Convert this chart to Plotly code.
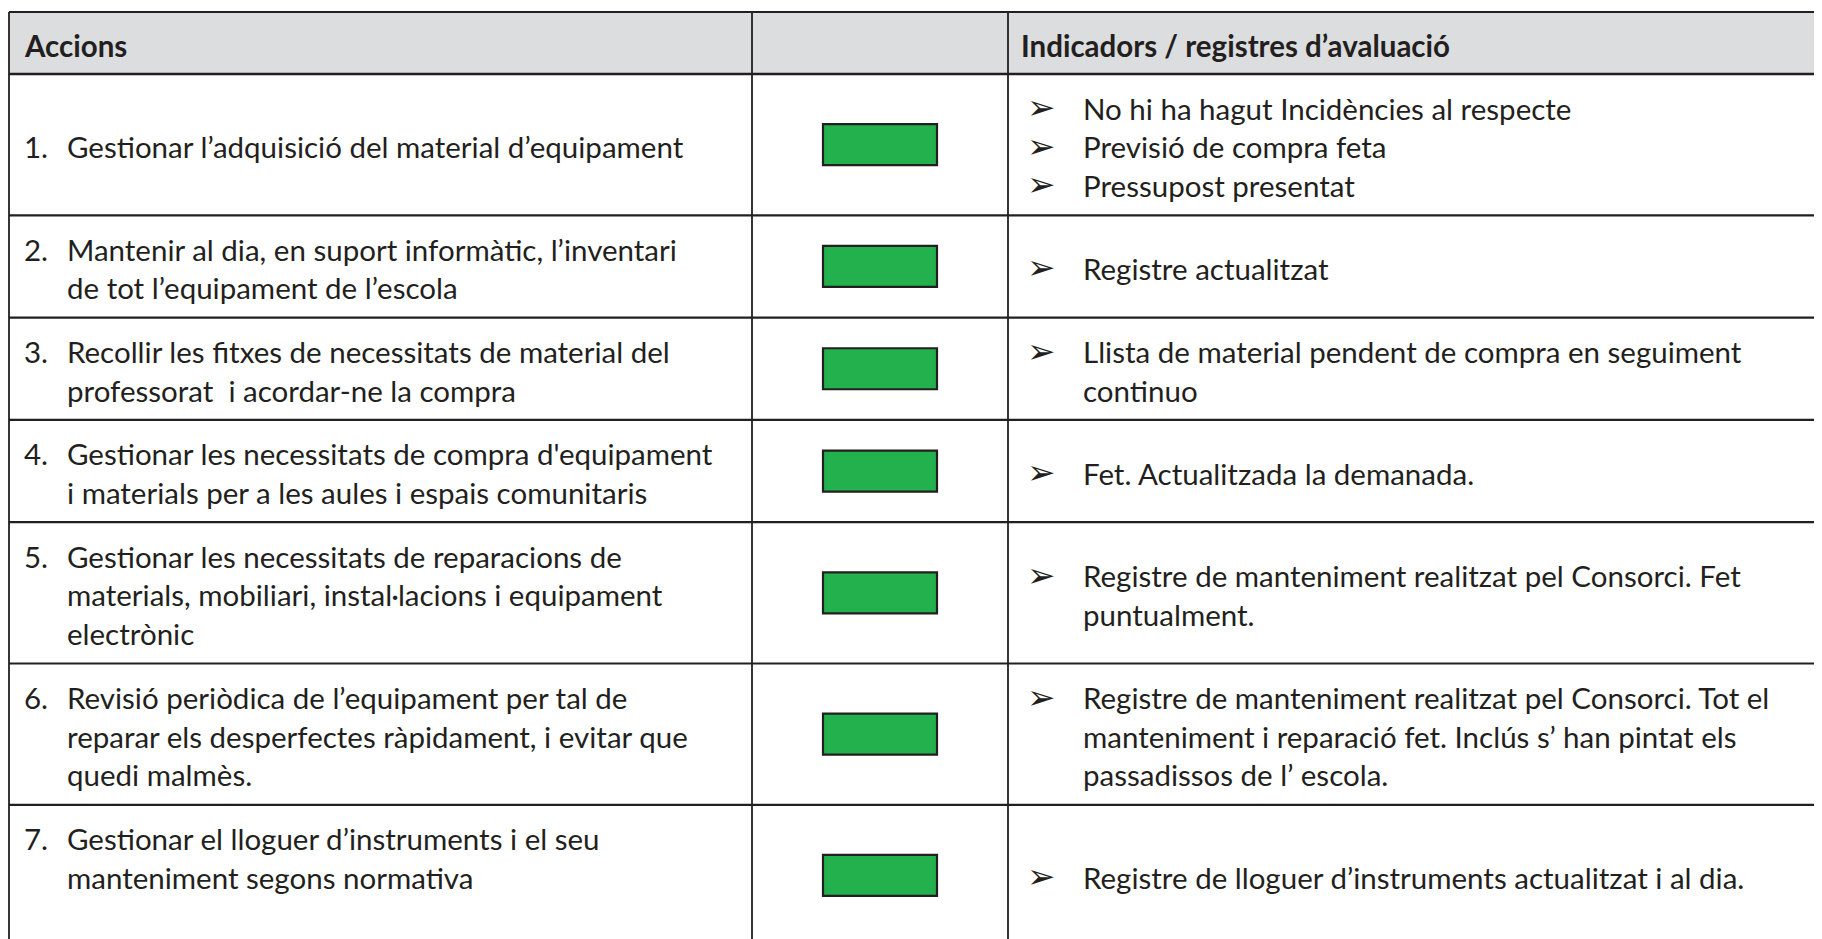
import plotly.graph_objects as go

# ---------------- data ----------------
headers = ["Accions", "", "Indicadors / registres d’avaluació"]

action_numbers = ["1.", "2.", "3.", "4.", "5.", "6.", "7."]

action_lines = [
    ["Gestionar l’adquisició del material d’equipament"],
    ["Mantenir al dia, en suport informàtic, l’inventari",
     "de tot l’equipament de l’escola"],
    ["Recollir les fitxes de necessitats de material del",
     "professorat\u00a0 i acordar-ne la compra"],
    ["Gestionar les necessitats de compra d'equipament",
     "i materials per a les aules i espais comunitaris"],
    ["Gestionar les necessitats de reparacions de",
     "materials, mobiliari, instal·lacions i equipament",
     "electrònic"],
    ["Revisió periòdica de l’equipament per tal de",
     "reparar els desperfectes ràpidament, i evitar que",
     "quedi malmès."],
    ["Gestionar el lloguer d’instruments i el seu",
     "manteniment segons normativa",
     ""],
]

status = ["assolit", "assolit", "assolit", "assolit", "assolit", "assolit", "assolit"]
status_colors = {"assolit": "#22B14C"}

indicator_lines = [
    [["No hi ha hagut Incidències al respecte"],
     ["Previsió de compra feta"],
     ["Pressupost presentat"]],
    [["Registre actualitzat"]],
    [["Llista de material pendent de compra en seguiment", "continuo"]],
    [["Fet. Actualitzada la demanada."]],
    [["Registre de manteniment realitzat pel Consorci. Fet", "puntualment."]],
    [["Registre de manteniment realitzat pel Consorci. Tot el",
      "manteniment i reparació fet. Inclús s’ han pintat els",
      "passadissos de l’ escola."]],
    [["Registre de lloguer d’instruments actualitzat i al dia."]],
]

# ---------------- layout constants ----------------
W, H = 1822, 939          # page size
OFF = 8                   # default body margin of the page
COL_EDGES = [9, 752, 1008, 1840]
TABLE_TOP = 12
HEADER_BOTTOM = 74
LINE_GAP = 38.5
TEXT_SHIFT = 2
BOX_W, BOX_H = 114, 41
FONT = "Lato, 'Open Sans', sans-serif"
FS = 29.5
HFS = 29.5
INK = "#231F20"

# row edges from number of text lines
row_edges = [TABLE_TOP, HEADER_BOTTOM]
for a, ind in zip(action_lines, indicator_lines):
    n = max(len(a), sum(len(b) for b in ind))
    row_edges.append(row_edges[-1] + 24.3 + 39 * n)

fig = go.Figure()
fig.add_trace(go.Scatter(x=[OFF, W], y=[OFF, H], mode="markers",
                         marker=dict(opacity=0), hoverinfo="skip", showlegend=False))

shapes = []
annotations = []

# header background
shapes.append(dict(type="rect", xref="x", yref="y", x0=COL_EDGES[0], x1=COL_EDGES[-1],
                   y0=TABLE_TOP, y1=HEADER_BOTTOM, fillcolor="#DCDDDE",
                   line=dict(width=0), layer="below"))

# header text
hy = (TABLE_TOP + HEADER_BOTTOM) / 2 + TEXT_SHIFT
annotations.append(dict(x=22, y=hy, text="<b>" + headers[0] + "</b>", xref="x", yref="y",
                        xanchor="left", yanchor="middle", showarrow=False,
                        font=dict(family=FONT, size=HFS, color=INK)))
annotations.append(dict(x=1019, y=hy, text="<b>" + headers[2] + "</b>", xref="x", yref="y",
                        xanchor="left", yanchor="middle", showarrow=False,
                        font=dict(family=FONT, size=HFS, color=INK)))

mid_x = (COL_EDGES[1] + COL_EDGES[2]) / 2
for i in range(len(action_lines)):
    top, bot = row_edges[i + 1], row_edges[i + 2]
    cy = (top + bot) / 2
    # action cell
    lines = action_lines[i]
    n = len(lines)
    for j, t in enumerate(lines):
        y = cy + TEXT_SHIFT + (j - (n - 1) / 2) * LINE_GAP
        if j == 0:
            annotations.append(dict(x=22, y=y, text=action_numbers[i], xref="x", yref="y",
                                    xanchor="left", yanchor="middle", showarrow=False,
                                    font=dict(family=FONT, size=FS, color=INK)))
        if t:
            annotations.append(dict(x=65, y=y, text=t, xref="x", yref="y",
                                    xanchor="left", yanchor="middle", showarrow=False,
                                    font=dict(family=FONT, size=FS, color=INK)))
    # status box
    shapes.append(dict(type="rect", xref="x", yref="y",
                       x0=mid_x - BOX_W / 2, x1=mid_x + BOX_W / 2,
                       y0=cy - BOX_H / 2, y1=cy + BOX_H / 2,
                       fillcolor=status_colors[status[i]],
                       line=dict(color=INK, width=2.2), layer="above"))
    # indicators
    flat = []
    for b in indicator_lines[i]:
        for k, t in enumerate(b):
            flat.append((k == 0, t))
    n = len(flat)
    for j, (is_first, t) in enumerate(flat):
        y = cy + TEXT_SHIFT + (j - (n - 1) / 2) * LINE_GAP
        if is_first:
            annotations.append(dict(x=1025, y=y - 1, text="➢", xref="x", yref="y",
                                    xanchor="left", yanchor="middle", showarrow=False,
                                    font=dict(family="DejaVu Sans", size=34, color=INK)))
        annotations.append(dict(x=1081, y=y, text=t, xref="x", yref="y",
                                xanchor="left", yanchor="middle", showarrow=False,
                                font=dict(family=FONT, size=FS, color=INK)))

# horizontal rules
for k, y in enumerate(row_edges):
    shapes.append(dict(type="line", xref="x", yref="y", x0=COL_EDGES[0], x1=COL_EDGES[-1],
                       y0=y, y1=y, line=dict(color=INK, width=2.6 if k == 1 else 2.2),
                       layer="above"))
# vertical rules
for x in COL_EDGES[:-1]:
    shapes.append(dict(type="line", xref="x", yref="y", x0=x, x1=x,
                       y0=TABLE_TOP, y1=row_edges[-1] + 20, line=dict(color=INK, width=1.8),
                       layer="above"))

fig.update_layout(
    width=W - OFF, height=H - OFF,
    margin=dict(l=0, r=0, t=0, b=0),
    paper_bgcolor="white", plot_bgcolor="white",
    xaxis=dict(range=[OFF, W], visible=False, fixedrange=True),
    yaxis=dict(range=[H, OFF], visible=False, fixedrange=True),
    shapes=shapes, annotations=annotations,
    showlegend=False,
)

fig.write_html("out.html", config={"displayModeBar": False})
